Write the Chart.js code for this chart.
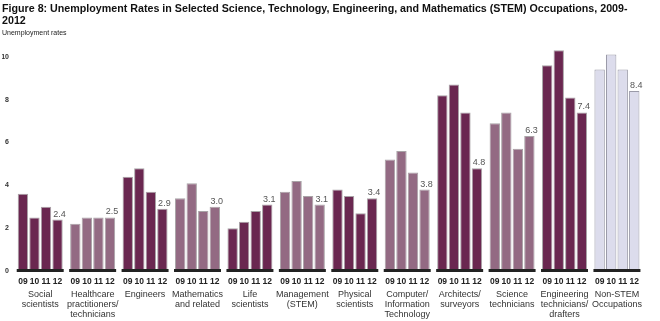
<!DOCTYPE html>
<html>
<head>
<meta charset="utf-8">
<script src="https://cdn.jsdelivr.net/npm/chart.js@4"></script>
<style>
  html, body { margin: 0; padding: 0; background: #fff; }
  #wrap { width: 660px; height: 321px; }
</style>
</head>
<body>
<div id="wrap"><canvas id="stemChart" width="660" height="321"></canvas></div>
<script>
const groups = [
    ['Social', 'scientists'],
    ['Healthcare', 'practitioners/', 'technicians'],
    ['Engineers'],
    ['Mathematics', 'and related'],
    ['Life', 'scientists'],
    ['Management', '(STEM)'],
    ['Physical', 'scientists'],
    ['Computer/', 'Information', 'Technology'],
    ['Architects/', 'surveyors'],
    ['Science', 'technicians'],
    ['Engineering', 'technicians/', 'drafters'],
    ['Non-STEM', 'Occupations']
];
const years = ['09', '10', '11', '12'];
const rates2009 = [3.6, 2.2, 4.4, 3.4, 2.0, 3.7, 3.8, 5.2, 8.2, 6.9, 9.6, 9.4];
const rates2010 = [2.5, 2.5, 4.8, 4.1, 2.3, 4.2, 3.5, 5.6, 8.7, 7.4, 10.3, 10.1];
const rates2011 = [3.0, 2.5, 3.7, 2.8, 2.8, 3.5, 2.7, 4.6, 7.4, 5.7, 8.1, 9.4];
const rates2012 = [2.4, 2.5, 2.9, 3.0, 3.1, 3.1, 3.4, 3.8, 4.8, 6.3, 7.4, 8.4];
const shade = ['dark', 'light', 'dark', 'light', 'dark', 'light', 'dark', 'light', 'dark', 'light', 'dark', 'other'];
const yTicks = [0, 2, 4, 6, 8, 10];

const fills = { dark: '#6a2750', light: '#936a83', other: '#dcdcec' };
const textColor = '#333333';
const fontFamily = '"Liberation Sans", Arial, sans-serif';

const seriesList = [rates2009, rates2010, rates2011, rates2012];

// years under each bar, value labels on last bar, dark baseline per group
const groupDecor = {
    id: 'groupDecor',
    afterDatasetsDraw(chart) {
        const ctx = chart.ctx;
        const zeroY = chart.scales.y.getPixelForValue(0);
        const metas = chart.data.datasets.map((d, i) => chart.getDatasetMeta(i));
        ctx.save();
        groups.forEach((g, gi) => {
            const first = metas[0].data[gi];
            const last = metas[metas.length - 1].data[gi];
            const left = first.x - first.width / 2 - 1;
            const right = last.x + last.width / 2 + 1;
            ctx.fillStyle = '#222222';
            ctx.fillRect(left, zeroY - 2, right - left, 3);
        });
        ctx.fillStyle = '#222222';
        ctx.textAlign = 'center';
        ctx.textBaseline = 'middle';
        ctx.font = 'bold 8.5px ' + fontFamily;
        metas.forEach((meta, di) => {
            meta.data.forEach(bar => {
                ctx.fillText(chart.data.datasets[di].label, bar.x, zeroY + 11);
            });
        });
        ctx.font = '9px ' + fontFamily;
        ctx.fillStyle = '#555555';
        ctx.textBaseline = 'bottom';
        const lastMeta = metas[metas.length - 1];
        lastMeta.data.forEach((bar, i) => {
            ctx.fillText(rates2012[i].toFixed(1), bar.x + 2, bar.y - 1);
        });
        ctx.restore();
    }
};

new Chart(document.getElementById('stemChart').getContext('2d'), {
    type: 'bar',
    data: {
        labels: groups,
        datasets: seriesList.map((values, i) => ({
            label: years[i],
            data: values,
            backgroundColor: shade.map(s => fills[s]),
            borderColor: shade.map(s => s === 'other' ? '#9a9aa8' : '#a9a4a7'),
            borderWidth: 1,
            categoryPercentage: 0.88,
            barPercentage: 0.9
        }))
    },
    options: {
        responsive: false,
        animation: false,
        layout: { padding: { left: 2, right: 1, top: 0, bottom: 0 } },
        plugins: {
            legend: { display: false },
            tooltip: { enabled: false },
            title: {
                display: true,
                text: ['Figure 8: Unemployment Rates in Selected Science, Technology, Engineering, and Mathematics (STEM) Occupations, 2009-', '2012'],
                align: 'start',
                color: '#111111',
                font: { family: fontFamily, size: 10.7, weight: 'bold', lineHeight: 1.15 },
                padding: { top: 3, bottom: 1 }
            },
            subtitle: {
                display: true,
                text: 'Unemployment rates',
                align: 'start',
                color: '#222222',
                font: { family: fontFamily, size: 7 },
                padding: { top: 0, bottom: 9 }
            }
        },
        scales: {
            x: {
                grid: { display: false, drawTicks: false },
                border: { display: false },
                ticks: {
                    color: textColor,
                    font: { family: fontFamily, size: 9, lineHeight: 1.12 },
                    padding: 18,
                    maxRotation: 0,
                    autoSkip: false
                },
                afterFit(axis) { axis.height = 50; }
            },
            y: {
                min: 0,
                max: 10.5,
                grid: { display: false, drawTicks: false },
                border: { display: false },
                afterBuildTicks(axis) { axis.ticks = yTicks.map(v => ({ value: v })); },
                ticks: {
                    color: textColor,
                    font: { family: fontFamily, size: 7, weight: 'bold' },
                    padding: 5
                },
                afterFit(axis) { axis.width = 12; }
            }
        }
    },
    plugins: [groupDecor]
});
</script>
</body>
</html>
